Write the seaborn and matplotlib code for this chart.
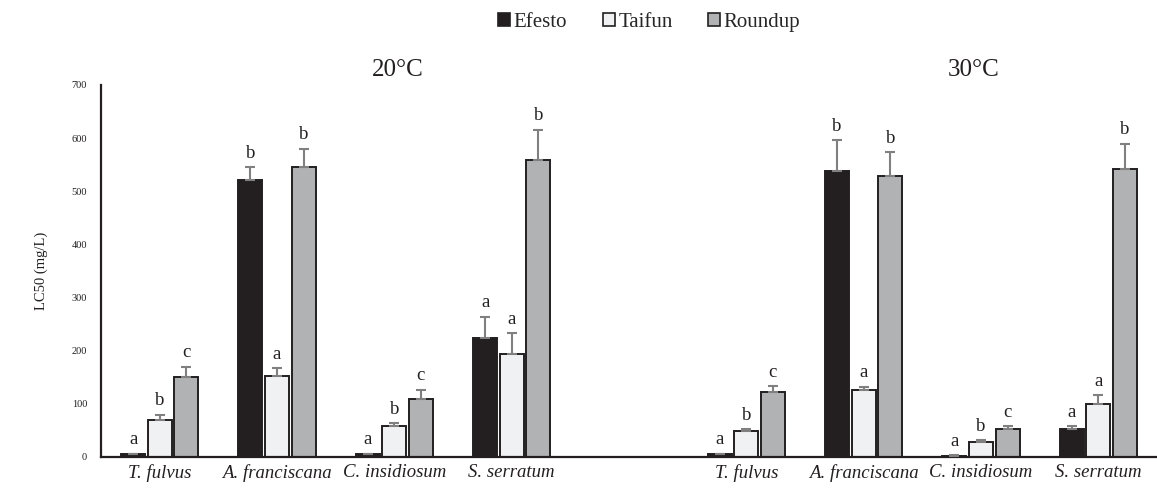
import numpy as np
import pandas as pd
import matplotlib
matplotlib.use("Agg")
import matplotlib.pyplot as plt
import matplotlib.transforms as mtransforms
import seaborn as sns

# ---------------- data ----------------
species = ["T. fulvus", "A. franciscana", "C. insidiosum", "S. serratum"]
temperatures = ["20°C", "30°C"]
products = ["Efesto", "Taifun", "Roundup"]

# LC50 values (mg/L), order: species x product
efesto_20 = [5, 522, 5, 224]
taifun_20 = [69, 153, 59, 193]
roundup_20 = [150, 546, 109, 559]
efesto_30 = [5, 539, 2, 53]
taifun_30 = [49, 126, 28, 99]
roundup_30 = [122, 529, 52, 542]

# upper error (mg/L)
efesto_20_err = [1, 23, 1, 40]
taifun_20_err = [10, 14, 4, 40]
roundup_20_err = [20, 34, 17, 57]
efesto_30_err = [1, 57, 1, 5]
taifun_30_err = [3, 6, 3, 17]
roundup_30_err = [11, 44, 6, 47]

# significance letters
efesto_20_lab = ["a", "b", "a", "a"]
taifun_20_lab = ["b", "a", "b", "a"]
roundup_20_lab = ["c", "b", "c", "b"]
efesto_30_lab = ["a", "b", "a", "a"]
taifun_30_lab = ["b", "a", "b", "a"]
roundup_30_lab = ["c", "b", "c", "b"]

values = {("20°C", "Efesto"): efesto_20, ("20°C", "Taifun"): taifun_20, ("20°C", "Roundup"): roundup_20,
          ("30°C", "Efesto"): efesto_30, ("30°C", "Taifun"): taifun_30, ("30°C", "Roundup"): roundup_30}
errors = {("20°C", "Efesto"): efesto_20_err, ("20°C", "Taifun"): taifun_20_err, ("20°C", "Roundup"): roundup_20_err,
          ("30°C", "Efesto"): efesto_30_err, ("30°C", "Taifun"): taifun_30_err, ("30°C", "Roundup"): roundup_30_err}
letters = {("20°C", "Efesto"): efesto_20_lab, ("20°C", "Taifun"): taifun_20_lab, ("20°C", "Roundup"): roundup_20_lab,
           ("30°C", "Efesto"): efesto_30_lab, ("30°C", "Taifun"): taifun_30_lab, ("30°C", "Roundup"): roundup_30_lab}

rows = []
for t in temperatures:
    for p in products:
        for i, s in enumerate(species):
            rows.append({"key": f"{s}|{t}", "species": s, "temp": t, "product": p,
                         "lc50": values[(t, p)][i], "err": errors[(t, p)][i],
                         "letter": letters[(t, p)][i]})
df = pd.DataFrame(rows)

order = [f"{s}|20°C" for s in species] + ["gap"] + [f"{s}|30°C" for s in species]

# ---------------- style ----------------
sns.set_style("white")
plt.rcParams["font.family"] = ["Liberation Serif", "DejaVu Serif"]

dark = "#231f20"
palette = {"Efesto": "#231f20", "Taifun": "#f0f1f2", "Roundup": "#b1b2b4"}

fig = plt.figure(figsize=(11.57, 4.94), dpi=100)
ax = fig.add_axes([0.0873, 0.075, 0.9127, 0.753])

sns.barplot(data=df, x="key", y="lc50", hue="product", order=order, hue_order=products,
            palette=palette, width=0.68, gap=0.1, errorbar=None, ax=ax,
            edgecolor=dark, linewidth=1.4, saturation=1)

# error bars + letters using the bar positions seaborn produced
for cont, p in zip(ax.containers, products):
    sub = df[df["product"] == p].set_index("key")
    keys = [k for k in order if k in sub.index]
    xs = [bar.get_x() + bar.get_width() / 2 for bar in cont]
    hs = [bar.get_height() for bar in cont]
    errs = [sub.loc[k, "err"] for k in keys]
    labs = [sub.loc[k, "letter"] for k in keys]
    ax.errorbar(xs, hs, yerr=[np.zeros(len(errs)), errs], fmt="none",
                ecolor="#808080", elinewidth=1.5, capsize=3.4, capthick=1.5, zorder=3)
    for x, h, e, l in zip(xs, hs, errs, labs):
        ax.annotate(l, (x, h + e), xytext=(0, 4), textcoords="offset points",
                    ha="center", va="bottom", fontsize=13.5, color=dark)

ax.set_ylim(0, 700)
ax.set_xlim(-0.5, 8.5)
ax.set_yticks(np.arange(0, 701, 100))
ax.tick_params(axis="y", labelsize=7.5, length=0, pad=10, colors=dark)
ax.set_xticks(range(len(order)))
ax.set_xticklabels([k.split("|")[0] if k != "gap" else "" for k in order],
                   fontsize=13.5, fontstyle="italic", color=dark)
ax.tick_params(axis="x", length=0, pad=5)
ax.set_xlabel("")
ax.set_ylabel("LC50 (mg/L)", fontsize=10.5, color=dark, labelpad=17)

for side in ["top", "right"]:
    ax.spines[side].set_visible(False)
for side in ["left", "bottom"]:
    ax.spines[side].set_color(dark)
    ax.spines[side].set_linewidth(1.6)

# panel titles
trans = mtransforms.blended_transform_factory(ax.transData, ax.transAxes)
title_pos = [2.03, 6.94]
for t, xp in zip(temperatures, title_pos):
    ax.text(xp, 1.039, t, transform=trans, ha="center", va="center", fontsize=18, color=dark)

# legend
ax.legend_.remove()
handles = [plt.Rectangle((0, 0), 1, 1, facecolor=palette[p], edgecolor=dark, linewidth=1.2) for p in products]
fig.legend(handles, products, loc="center", bbox_to_anchor=(0.561, 0.955), ncol=3, frameon=False,
           fontsize=15, handlelength=0.6, handleheight=0.6, handletextpad=0.15, columnspacing=1.7)

fig.savefig("out.png", dpi=100)
